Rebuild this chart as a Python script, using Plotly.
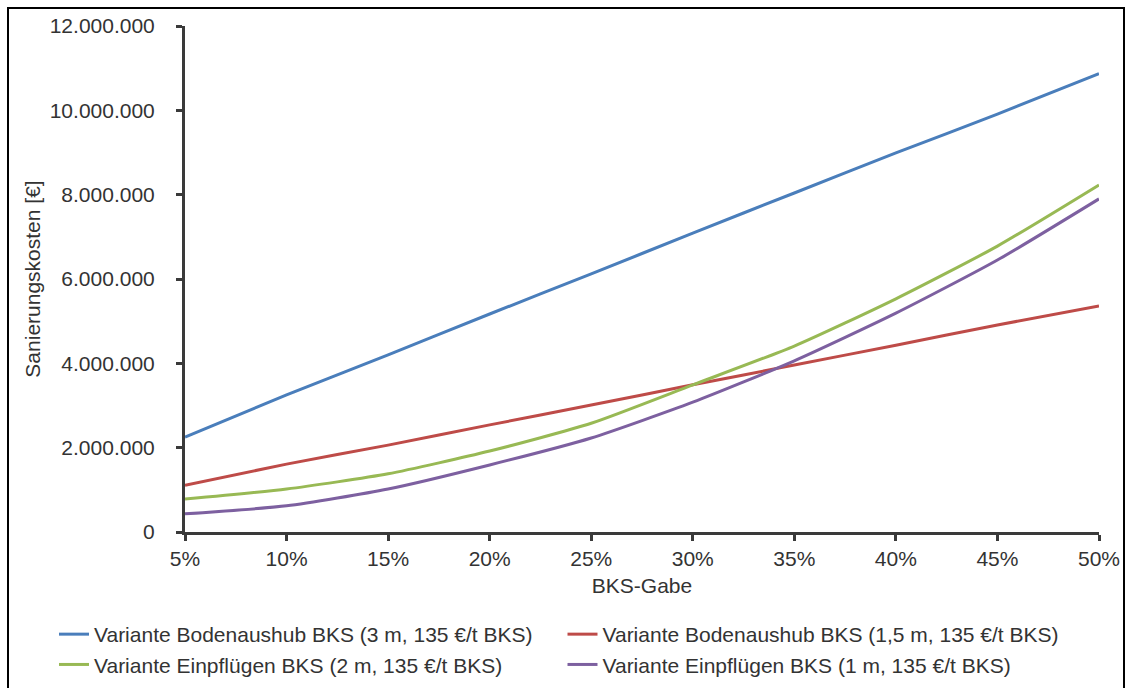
import plotly.graph_objects as go

bks_gabe = [5, 10, 15, 20, 25, 30, 35, 40, 45, 50]
x_tick_labels = ["5%", "10%", "15%", "20%", "25%", "30%", "35%", "40%", "45%", "50%"]

bodenaushub_3m = [2250000, 3250000, 4200000, 5170000, 6120000, 7090000, 8040000, 8990000, 9910000, 10870000]
bodenaushub_15m = [1110000, 1610000, 2060000, 2540000, 3010000, 3490000, 3960000, 4430000, 4910000, 5360000]
einpfluegen_2m = [780000, 1020000, 1380000, 1920000, 2580000, 3490000, 4410000, 5530000, 6780000, 8230000]
einpfluegen_1m = [430000, 620000, 1020000, 1590000, 2230000, 3080000, 4060000, 5190000, 6450000, 7900000]

names = [
    "Variante Bodenaushub BKS (3 m, 135 €/t BKS)",
    "Variante Bodenaushub BKS (1,5 m, 135 €/t BKS)",
    "Variante Einpflügen BKS (2 m, 135 €/t BKS)",
    "Variante Einpflügen BKS (1 m, 135 €/t BKS)",
]
colors = ["#4A7EBB", "#BE4B48", "#98B954", "#7D60A0"]
series = [bodenaushub_3m, bodenaushub_15m, einpfluegen_2m, einpfluegen_1m]

W, H = 1126, 688
L, R, T, B = 185, 1099, 26, 532
pw, ph = R - L, B - T

def px(xp):
    return (xp - L) / pw

def py(yp):
    return (B - yp) / ph

fig = go.Figure()
for name, col, ys in zip(names, colors, series):
    fig.add_trace(go.Scatter(
        x=bks_gabe, y=ys, name=name, mode="lines",
        line=dict(color=col, width=3, shape="spline", smoothing=0.6),
    ))

font_family = "Liberation Sans, Arial, sans-serif"
text_color = "#333333"
axis_color = "#3a3a3a"
fs = 21

fig.update_layout(
    width=W, height=H,
    margin=dict(l=L, r=W - R, t=T, b=H - B, autoexpand=False),
    paper_bgcolor="white", plot_bgcolor="white",
    separators=",.",
    font=dict(family=font_family, size=fs, color=text_color),
    showlegend=True,
    legend=dict(
        orientation="h",
        x=px(54), xanchor="left",
        y=py(614), yanchor="top",
        entrywidth=463.5, entrywidthmode="pixels",
        font=dict(size=fs, color=text_color),
        bgcolor="rgba(0,0,0,0)",
    ),
    xaxis=dict(
        range=[5, 50], automargin=False,
        tickvals=bks_gabe, ticktext=x_tick_labels,
        showgrid=False, zeroline=False,
        showline=True, linecolor=axis_color, linewidth=3,
        ticks="outside", ticklen=6, tickwidth=3, tickcolor=axis_color,
        tickfont=dict(size=fs, color=text_color),
        title=dict(text="BKS-Gabe", font=dict(size=fs, color=text_color), standoff=10),
    ),
    yaxis=dict(
        range=[0, 12000000], dtick=2000000, tickformat=",d", automargin=False,
        showgrid=False, zeroline=False,
        showline=True, linecolor=axis_color, linewidth=3,
        ticks="outside", ticklen=6, tickwidth=3, tickcolor=axis_color,
        ticklabelstandoff=17,
        tickfont=dict(size=fs, color=text_color),
        title=dict(text="Sanierungskosten [€]", font=dict(size=fs, color=text_color), standoff=4),
    ),
    shapes=[dict(
        type="rect", xref="paper", yref="paper",
        x0=px(8), x1=px(1124), y0=py(700), y1=py(8),
        line=dict(color="black", width=2), fillcolor="rgba(0,0,0,0)", layer="below",
    )],
)

fig.write_html("out.html")
